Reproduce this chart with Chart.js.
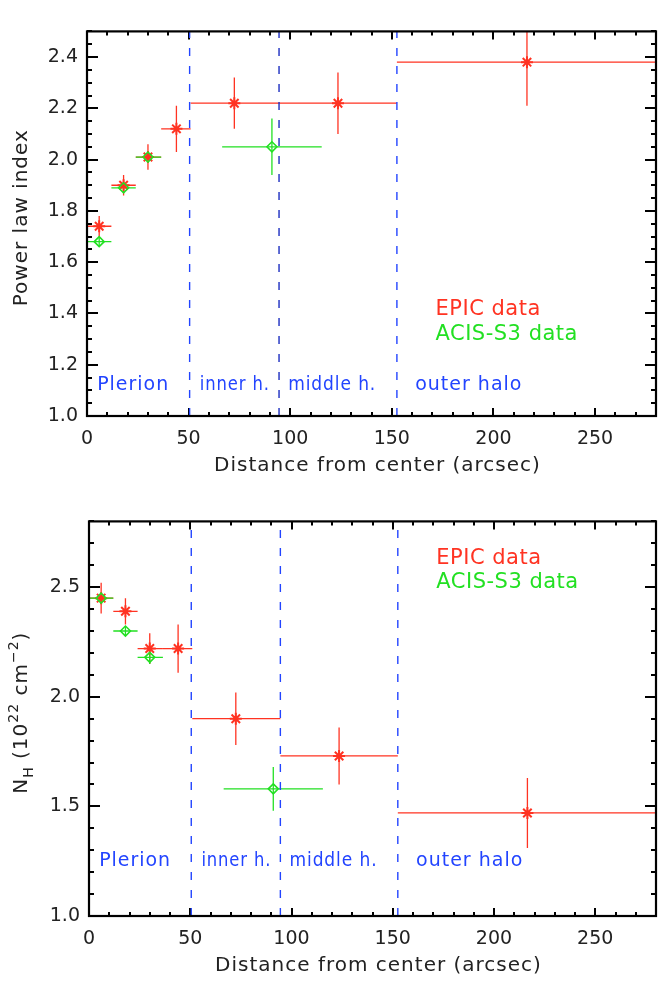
<!DOCTYPE html>
<html>
<head>
<meta charset="utf-8">
<script src="https://cdn.jsdelivr.net/npm/chart.js@4"></script>
<style>
  html, body { margin: 0; padding: 0; background: #fff; }
  #top { position: absolute; left: 0; top: 0; }
  #bottom { position: absolute; left: 0; top: 490px; }
</style>
</head>
<body>
<canvas id="top" width="664" height="490"></canvas>
<canvas id="bottom" width="664" height="493"></canvas>
<script>
// ==================
//  DATA
// ==================
// radial bins (arcsec)
const radiusEpic   = [6, 18, 30, 44, 72.5, 123.5, 216.5];
const radiusEpicLo = [0, 12, 24, 36.5, 51, 94.5, 152.5];
const radiusEpicHi = [12, 24, 36.5, 51, 94.5, 152.5, 280];
const radiusAcis   = [6, 18, 30, 91];
const radiusAcisLo = [0, 12, 24, 66.5];
const radiusAcisHi = [12, 24, 36.5, 115.5];

// power law index
const indexEpic   = [1.74, 1.90, 2.01, 2.12, 2.22, 2.22, 2.38];
const indexEpicLo = [1.70, 1.86, 1.96, 2.03, 2.12, 2.10, 2.21];
const indexEpicHi = [1.78, 1.94, 2.06, 2.21, 2.32, 2.34, 2.56];
const indexAcis   = [1.68, 1.89, 2.01, 2.05];
const indexAcisLo = [1.66, 1.87, 1.99, 1.94];
const indexAcisHi = [1.70, 1.905, 2.03, 2.16];

// N_H (1e22 cm^-2)
const nhEpic   = [2.45, 2.39, 2.22, 2.22, 1.90, 1.73, 1.47];
const nhEpicLo = [2.38, 2.33, 2.15, 2.11, 1.78, 1.60, 1.31];
const nhEpicHi = [2.52, 2.45, 2.29, 2.33, 2.02, 1.86, 1.63];
const nhAcis   = [2.45, 2.30, 2.18, 1.58];
const nhAcisLo = [2.43, 2.28, 2.15, 1.48];
const nhAcisHi = [2.47, 2.32, 2.20, 1.68];

// regions
const regionEdges  = [50.5, 94.5, 152.5];
const regionNames  = ["Plerion", "inner h.", "middle h.", "outer halo"];
const regionLabelX = [5, 55.5, 99, 161.5];
const regionLabelW = [72, 70, 88, 112];

const FONT = "DejaVu Sans";
const RED = "#ff3322";
const GREEN = "#22e022";
const BLUE = "#2244ff";

// ==================
//  HELPERS
// ==================
function drawRich(ctx, parts, cx, cy, size) {
  ctx.save();
  ctx.translate(cx, cy);
  ctx.rotate(-Math.PI / 2);
  ctx.letterSpacing = "1px";
  const small = Math.round(size * 0.7);
  let total = 0;
  parts.forEach((p) => {
    ctx.font = `${p.mode ? small : size}px ${FONT}`;
    total += ctx.measureText(p.t).width;
  });
  let xpos = -total / 2;
  ctx.textBaseline = "middle";
  ctx.textAlign = "left";
  parts.forEach((p) => {
    ctx.font = `${p.mode ? small : size}px ${FONT}`;
    const dy = p.mode === "sub" ? size * 0.35 : p.mode === "sup" ? -size * 0.4 : 0;
    ctx.fillText(p.t, xpos, dy);
    xpos += ctx.measureText(p.t).width;
  });
  ctx.restore();
}

// tick marks only, pointing into the plot (negative tickLength)
function tickGrid(len) {
  return {
    display: true,
    drawOnChartArea: false,
    drawTicks: true,
    tickLength: -len,
    tickWidth: 2,
    tickColor: "#000",
    lineWidth: 2,
    color: "#000",
  };
}

// unlabeled axis used only for its tick marks (minor ticks, top and right sides)
function tickAxis(axis, position, min, max, step, len) {
  return {
    type: "linear",
    axis,
    position,
    min,
    max,
    display: true,
    weight: 0,
    grid: tickGrid(len),
    border: { display: false },
    ticks: { display: false, stepSize: step, includeBounds: false },
    afterFit: (s) => {
      if (axis === "x") s.height = 0;
      else s.width = 0;
    },
  };
}

// ==================
//  PLUGINS
// ==================
const errorBars = {
  id: "errorBars",
  beforeDatasetsDraw(chart) {
    const { ctx, chartArea: a, scales: { x, y } } = chart;
    ctx.save();
    ctx.beginPath();
    ctx.rect(a.left, a.top, a.right - a.left, a.bottom - a.top);
    ctx.clip();
    chart.data.datasets.forEach((ds) => {
      if (!ds.err) return;
      ctx.strokeStyle = ds.borderColor;
      ctx.lineWidth = 1.3;
      ds.data.forEach((p, i) => {
        const px = x.getPixelForValue(p.x);
        const py = y.getPixelForValue(p.y);
        ctx.beginPath();
        ctx.moveTo(x.getPixelForValue(ds.err.xlo[i]), py);
        ctx.lineTo(x.getPixelForValue(ds.err.xhi[i]), py);
        ctx.moveTo(px, y.getPixelForValue(ds.err.ylo[i]));
        ctx.lineTo(px, y.getPixelForValue(ds.err.yhi[i]));
        ctx.stroke();
      });
    });
    ctx.restore();
  }
};

// box, titles and labels
function makeFrame(o) {
  return {
    id: "idlFrame",
    afterDraw(chart) {
      const { ctx, chartArea: a, scales: { x, y } } = chart;
      ctx.save();
      ctx.strokeStyle = "#000";
      ctx.lineWidth = 2.2;
      ctx.strokeRect(a.left, a.top, a.right - a.left, a.bottom - a.top);

      // axis titles
      ctx.fillStyle = "#222";
      ctx.font = `20px ${FONT}`;
      ctx.letterSpacing = "1px";
      ctx.textAlign = "center";
      ctx.textBaseline = "middle";
      ctx.fillText("Distance from center (arcsec)", (a.left + a.right) / 2 + 6, a.bottom + o.xTitleGap);
      drawRich(ctx, o.yTitle, 22, (a.top + a.bottom) / 2 - 6, 20);

      // region names
      ctx.textAlign = "left";
      ctx.fillStyle = BLUE;
      ctx.font = `19px ${FONT}`;
      ctx.letterSpacing = "1px";
      regionNames.forEach((name, i) => {
        ctx.fillText(name, x.getPixelForValue(regionLabelX[i]), y.getPixelForValue(o.regionY), regionLabelW[i]);
      });

      // legend text
      ctx.font = `21px ${FONT}`;
      ctx.letterSpacing = "0.5px";
      ctx.fillStyle = RED;
      ctx.fillText("EPIC data", x.getPixelForValue(171.5), y.getPixelForValue(o.legendY[0]));
      ctx.fillStyle = GREEN;
      ctx.fillText("ACIS-S3 data", x.getPixelForValue(171.5), y.getPixelForValue(o.legendY[1]));
      ctx.restore();
    }
  };
}

// ==================
//  CHARTS
// ==================
function points(xs, ys) {
  return xs.map((v, i) => ({ x: v, y: ys[i] }));
}

function makePanel(canvasId, p) {
  const edgeSets = regionEdges.map((e, i) => ({
    type: "line",
    data: [{ x: e, y: p.yMin }, { x: e, y: p.yMax }],
    borderColor: p.edgeColors[i],
    borderWidth: 1.4,
    borderDash: [8, 10],
    pointRadius: 0,
    showLine: true,
    order: 3,
  }));

  return new Chart(document.getElementById(canvasId), {
    type: "scatter",
    data: {
      datasets: [
        ...edgeSets,
        {
          label: "EPIC data",
          data: points(radiusEpic, p.epic),
          err: { xlo: radiusEpicLo, xhi: radiusEpicHi, ylo: p.epicLo, yhi: p.epicHi },
          borderColor: RED,
          backgroundColor: RED,
          pointStyle: "star",
          pointRadius: 6,
          borderWidth: 2,
          order: 1,
        },
        {
          label: "ACIS-S3 data",
          data: points(radiusAcis, p.acis),
          err: { xlo: radiusAcisLo, xhi: radiusAcisHi, ylo: p.acisLo, yhi: p.acisHi },
          borderColor: GREEN,
          backgroundColor: "rgba(0,0,0,0)",
          pointStyle: "rectRot",
          pointRadius: 5,
          borderWidth: 1.6,
          order: 0,
        },
      ],
    },
    options: {
      responsive: false,
      animation: false,
      layout: { padding: { top: p.padTop, right: 1, left: 0, bottom: 0 } },
      plugins: {
        legend: { display: false },
        tooltip: { enabled: false },
      },
      scales: {
        x: {
          type: "linear",
          position: "bottom",
          weight: 1,
          min: 0,
          max: 280,
          grid: tickGrid(8),
          border: { display: false },
          ticks: {
            stepSize: 50,
            includeBounds: false,
            padding: 20,
            color: "#222",
            font: { family: FONT, size: 19 },
            maxRotation: 0,
          },
          afterFit: (s) => { s.height = p.xAxisHeight; },
        },
        xMinor: tickAxis("x", "bottom", 0, 280, 10, 4),
        xTop: tickAxis("x", "top", 0, 280, 50, 8),
        xTopMinor: tickAxis("x", "top", 0, 280, 10, 4),
        y: {
          type: "linear",
          position: "left",
          weight: 1,
          min: p.yMin,
          max: p.yMax,
          grid: tickGrid(11),
          border: { display: false },
          ticks: {
            stepSize: p.yStep,
            includeBounds: false,
            padding: 20,
            color: "#222",
            font: { family: FONT, size: 19 },
            callback: (v) => Number(v).toFixed(1),
          },
          afterFit: (s) => { s.width = p.yAxisWidth; },
        },
        yMinor: tickAxis("y", "left", p.yMin, p.yMax, p.yMinor, 5),
        yRight: tickAxis("y", "right", p.yMin, p.yMax, p.yStep, 11),
        yRightMinor: tickAxis("y", "right", p.yMin, p.yMax, p.yMinor, 5),
      },
    },
    plugins: [errorBars, makeFrame(p.frame)],
  });
}

makePanel("top", {
  epic: indexEpic, epicLo: indexEpicLo, epicHi: indexEpicHi,
  acis: indexAcis, acisLo: indexAcisLo, acisHi: indexAcisHi,
  yMin: 1.0, yMax: 2.5, yStep: 0.2, yMinor: 0.05,
  padTop: 7, xAxisHeight: 74, yAxisWidth: 87,
  edgeColors: [BLUE, "#1a2cc0", BLUE],
  frame: {
    xTitleGap: 50,
    yTitle: [{ t: "Power law index" }],
    regionY: 1.12,
    legendY: [1.415, 1.318],
  },
});

makePanel("bottom", {
  epic: nhEpic, epicLo: nhEpicLo, epicHi: nhEpicHi,
  acis: nhAcis, acisLo: nhAcisLo, acisHi: nhAcisHi,
  yMin: 1.0, yMax: 2.8, yStep: 0.5, yMinor: 0.1,
  padTop: 17, xAxisHeight: 67, yAxisWidth: 89,
  edgeColors: [BLUE, BLUE, BLUE],
  frame: {
    xTitleGap: 50,
    yTitle: [
      { t: "N" }, { t: "H", mode: "sub" }, { t: " (10" }, { t: "22", mode: "sup" },
      { t: " cm" }, { t: "\u22122", mode: "sup" }, { t: ")" },
    ],
    regionY: 1.25,
    legendY: [2.63, 2.52],
  },
});
</script>
</body>
</html>
